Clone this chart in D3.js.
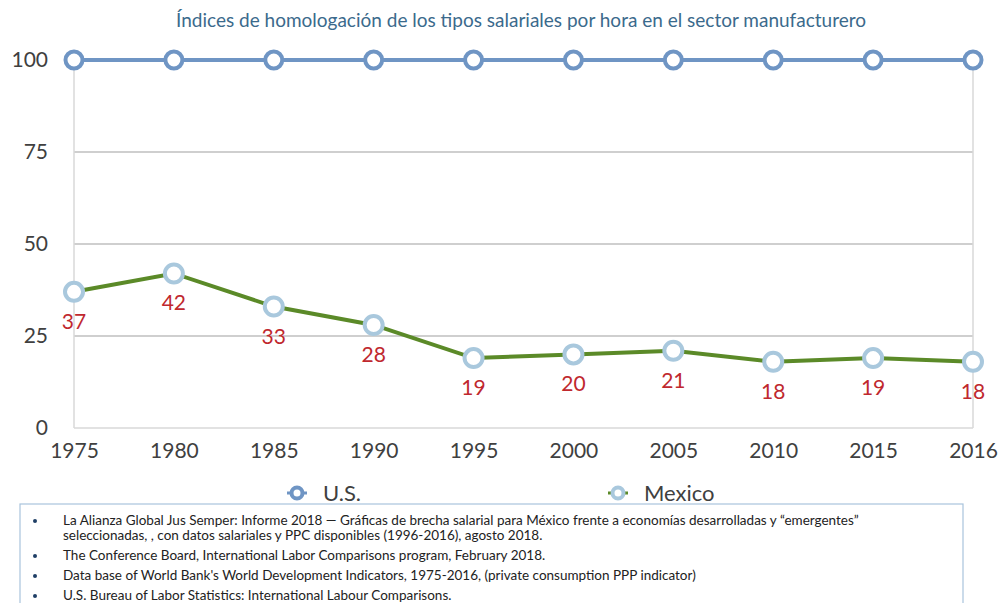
<!DOCTYPE html>
<html>
<head>
<meta charset="utf-8">
<script src="https://cdn.jsdelivr.net/npm/d3@7"></script>
<style>
body{margin:0;background:#fff;}
svg{display:block;}
</style>
</head>
<body>
<div id="chart"></div>
<script>
// datos
var years = ['1975','1980','1985','1990','1995','2000','2005','2010','2015','2016'];
var us = [100,100,100,100,100,100,100,100,100,100];
var mexico = [37,42,33,28,19,20,21,18,19,18];
var yTicks = [0,25,50,75,100];
var notes = [
  ['La Alianza Global Jus Semper: Informe 2018 \u2014 Gráficas de brecha salarial para México frente a economías desarrolladas y \u201cemergentes\u201d',
   'seleccionadas, , con datos salariales y PPC disponibles (1996-2016), agosto 2018.'],
  ['The Conference Board, International Labor Comparisons program, February 2018.'],
  ["Data base of World Bank's World Development Indicators, 1975-2016, (private consumption PPP indicator)"],
  ['U.S. Bureau of Labor Statistics: International Labour Comparisons.']
];

var W = 1002, H = 603;
var svg = d3.select('#chart').append('svg').attr('width',W).attr('height',H);
var font = 'Lato, "Open Sans", sans-serif';

var x = d3.scalePoint().domain(years).range([74,973]);
var y = d3.scaleLinear().domain([0,100]).range([428,60]);

// titulo
svg.append('text').attr('x',521).attr('y',27).attr('text-anchor','middle')
    .style('font-family',font).style('font-size','19px').style('fill','#3b6a8c')
    .text('Índices de homologación de los tipos salariales por hora en el sector manufacturero');

// rejilla
svg.selectAll('line.grid').data(yTicks.filter(d=>d>0)).enter().append('line')
    .attr('x1',74).attr('x2',973).attr('y1',d=>y(d)).attr('y2',d=>y(d))
    .style('stroke','#bfbfbf').style('stroke-width',1.5);
svg.append('line').attr('x1',74).attr('x2',973).attr('y1',y(0)).attr('y2',y(0))
    .style('stroke','#d9d9d9').style('stroke-width',1.5);
[74,973].forEach(function(px){
  svg.append('line').attr('x1',px).attr('x2',px).attr('y1',y(100)).attr('y2',y(0))
    .style('stroke','#d9d9d9').style('stroke-width',1.5);
});

// ejes
var yAxis = svg.append('g').attr('transform','translate(74,0)')
    .call(d3.axisLeft(y).tickValues(yTicks).tickSize(0).tickPadding(26));
var xAxis = svg.append('g').attr('transform','translate(0,428)')
    .call(d3.axisBottom(x).tickSize(0).tickPadding(15));
[yAxis,xAxis].forEach(function(g){
  g.select('.domain').remove();
  g.selectAll('text').style('font-family',font).style('font-size','21px').style('fill','#404040');
});

var line = d3.line().x((d,i)=>x(years[i])).y(d=>y(d));

// U.S.
svg.append('path').datum(us).attr('d',line)
    .style('fill','none').style('stroke','#6f95c4').style('stroke-width',4);
svg.selectAll('circle.us').data(us).enter().append('circle')
    .attr('cx',(d,i)=>x(years[i])).attr('cy',d=>y(d)).attr('r',8.5)
    .style('fill','#fff').style('stroke','#6f95c4').style('stroke-width',4);

// Mexico
svg.append('path').datum(mexico).attr('d',line)
    .style('fill','none').style('stroke','#5b8a28').style('stroke-width',4);
svg.selectAll('circle.mx').data(mexico).enter().append('circle')
    .attr('cx',(d,i)=>x(years[i])).attr('cy',d=>y(d)).attr('r',9)
    .style('fill','#fff').style('stroke','#a9c8dd').style('stroke-width',4);
svg.selectAll('text.lbl').data(mexico).enter().append('text')
    .attr('x',(d,i)=>x(years[i])).attr('y',d=>y(d)+37).attr('text-anchor','middle')
    .style('font-family',font).style('font-size','21px').style('fill','#c0282e')
    .text(d=>d);

// leyenda
var legend = [
  {name:'U.S.', x:297, stroke:'#6f95c4', lineCol:'#6f95c4'},
  {name:'Mexico', x:618, stroke:'#a9c8dd', lineCol:'#5b8a28'}
];
var lg = svg.selectAll('g.leg').data(legend).enter().append('g')
    .attr('transform',d=>'translate('+d.x+',493)');
lg.append('line').attr('x1',-10).attr('x2',10).style('stroke',d=>d.lineCol).style('stroke-width',3);
lg.append('circle').attr('r',5.5).style('fill','#fff').style('stroke',d=>d.stroke).style('stroke-width',4);
lg.append('text').attr('x',26).attr('y',7.5)
    .style('font-family',font).style('font-size','22px').style('fill','#404040')
    .text(d=>d.name);

// notas
svg.append('rect').attr('x',20).attr('y',504).attr('width',943).attr('height',110)
    .style('fill','#fff').style('stroke','#a9c4dc').style('stroke-width',1.2);
var ny = 525;
notes.forEach(function(n){
  svg.append('circle').attr('cx',35).attr('cy',ny-4).attr('r',2).style('fill','#1f3f66');
  n.forEach(function(t){
    svg.append('text').attr('x',63).attr('y',ny)
      .style('font-family',font)
      .style('font-size','13.5px').style('fill','#222').text(t);
    ny += 15;
  });
  ny += 5;
});
</script>
</body>
</html>
